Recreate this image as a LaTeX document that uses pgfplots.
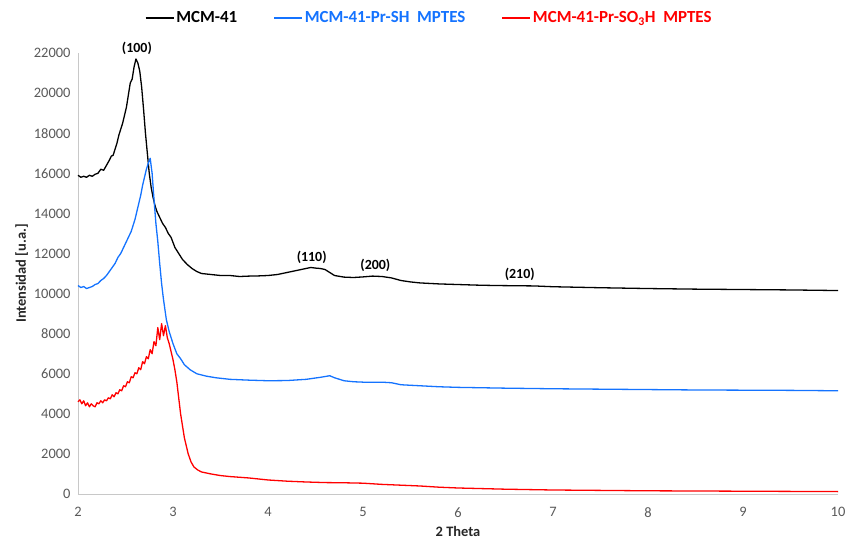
\documentclass[border=0pt]{standalone}
\usepackage{pgfplots}
\pgfplotsset{compat=1.18}
\usepackage{fontspec}
\setmainfont{Carlito}
\usetikzlibrary{calc}
\definecolor{xblue}{RGB}{20,115,255}
\definecolor{xred}{RGB}{255,0,0}
\definecolor{ticklab}{RGB}{89,89,89}
\definecolor{axline}{RGB}{200,200,200}

\begin{document}
\begin{tikzpicture}
\begin{axis}[
    scale only axis,
    width=760bp, height=441bp,
    xmin=2, xmax=10,
    ymin=0, ymax=22000,
    clip=false,
    xtick={2,3,4,5,6,7,8,9,10},
    ytick={0,2000,4000,6000,8000,10000,12000,14000,16000,18000,20000,22000},
    scaled y ticks=false,
    axis lines=left,
    axis line style={-, draw=axline, line width=0.8bp},
    major tick length=0pt,
    /pgf/number format/1000 sep={},
    /pgf/number format/assume math mode=true,
    tick label style={font=\fontsize{14.5}{16}\selectfont, text=ticklab},
    xticklabel style={yshift=-10bp},
    yticklabel style={xshift=-4bp},
    xlabel={\textbf{2 Theta}},
    ylabel={\textbf{Intensidad [u.a.]}},
    label style={font=\fontsize{14.5}{16}\selectfont, text=black!85},
    xlabel style={yshift=-2.5bp},
    ylabel style={yshift=-1bp},
    legend columns=3,
    legend style={draw=none, at={(0.462,1.08)}, anchor=center,
        font=\fontsize{17}{19}\selectfont\bfseries,
        /tikz/every even column/.append style={column sep=34bp}},
    legend image code/.code={\draw[#1, line width=1.6bp] (0bp,0bp) -- (28bp,0bp);},
    every axis plot/.append style={line width=1.3bp, line join=round},
]
\addplot[black] coordinates {
(2.00,15900) (2.03,15800) (2.06,15850) (2.09,15800) (2.12,15900) (2.15,15850)
(2.18,15950) (2.21,16000) (2.24,16200) (2.27,16150) (2.30,16400) (2.33,16650)
(2.35,16850) (2.37,16900) (2.39,17200) (2.41,17500) (2.43,17900) (2.45,18200)
(2.47,18500) (2.49,18900) (2.51,19300) (2.53,19900) (2.55,20500) (2.57,20700)
(2.59,21300) (2.61,21700) (2.63,21500) (2.65,21100) (2.67,20300) (2.69,19200)
(2.71,18000) (2.73,17000) (2.75,16000) (2.77,15300) (2.79,14800) (2.81,14400)
(2.83,14100) (2.86,13800) (2.89,13500) (2.92,13300) (2.95,13000) (2.98,12800)
(3.02,12300) (3.06,12000) (3.10,11700) (3.15,11450) (3.20,11250) (3.25,11100)
(3.30,11000) (3.40,10950) (3.50,10900) (3.60,10900) (3.70,10850) (3.80,10870)
(3.90,10880) (4.00,10900) (4.10,10950) (4.20,11050) (4.30,11150) (4.40,11250)
(4.45,11300) (4.50,11270) (4.55,11250) (4.60,11200) (4.65,11050) (4.70,10900)
(4.80,10820) (4.90,10800) (5.00,10830) (5.10,10870) (5.20,10850) (5.30,10780)
(5.40,10650) (5.50,10580) (5.60,10530) (5.80,10480) (6.00,10450) (6.20,10420)
(6.40,10400) (6.60,10390) (6.80,10380) (7.00,10340) (7.50,10290) (8.00,10250)
(8.50,10220) (9.00,10200) (9.50,10180) (10.00,10150)
};
\addlegendentry{MCM-41}
\addplot[xblue] coordinates {
(2.00,10400) (2.03,10300) (2.06,10350) (2.09,10250) (2.12,10300) (2.15,10350)
(2.18,10450) (2.21,10500) (2.24,10650) (2.27,10750) (2.30,10900) (2.33,11100)
(2.36,11300) (2.39,11500) (2.42,11800) (2.45,12000) (2.48,12300) (2.51,12600)
(2.54,12900) (2.56,13100) (2.58,13400) (2.60,13700) (2.62,14100) (2.64,14500)
(2.66,14900) (2.68,15400) (2.70,15800) (2.72,16200) (2.74,16500) (2.76,16750)
(2.78,16000) (2.80,14700) (2.82,13500) (2.84,12600) (2.86,11500) (2.88,10500)
(2.90,9700) (2.93,8700) (2.96,8100) (3.00,7500) (3.04,7000) (3.08,6750)
(3.12,6450) (3.18,6200) (3.25,6000) (3.35,5880) (3.45,5800) (3.60,5720)
(3.80,5680) (4.00,5650) (4.20,5660) (4.40,5720) (4.55,5820) (4.65,5900)
(4.70,5800) (4.80,5650) (4.90,5600) (5.00,5580) (5.20,5580) (5.30,5550)
(5.40,5450) (5.60,5400) (5.80,5350) (6.00,5320) (6.50,5280) (7.00,5250)
(7.50,5230) (8.00,5210) (8.50,5190) (9.00,5180) (9.50,5170) (10.00,5150)
};
\addlegendentry{\textcolor{xblue}{MCM-41-Pr-SH\ \ MPTES}}
\addplot[xred] coordinates {
(2.00,4600) (2.02,4700) (2.04,4500) (2.06,4650) (2.08,4400) (2.10,4550)
(2.12,4350) (2.14,4500) (2.16,4400) (2.18,4350) (2.20,4550) (2.22,4500)
(2.24,4650) (2.26,4550) (2.28,4700) (2.30,4650) (2.32,4800) (2.34,4750)
(2.36,4950) (2.38,4850) (2.40,5050) (2.42,5000) (2.44,5200) (2.46,5150)
(2.48,5400) (2.50,5350) (2.52,5600) (2.54,5550) (2.56,5850) (2.58,5800)
(2.60,6050) (2.62,6000) (2.64,6300) (2.66,6200) (2.68,6600) (2.70,6500)
(2.72,6850) (2.74,6750) (2.76,7200) (2.78,7000) (2.80,7600) (2.82,7400)
(2.84,8300) (2.86,7700) (2.88,8500) (2.90,7900) (2.92,8400) (2.94,7800)
(2.96,7500) (2.98,7100) (3.00,6700) (3.02,6200) (3.04,5600) (3.06,4800)
(3.08,4000) (3.10,3400) (3.12,2800) (3.14,2400) (3.16,2000) (3.19,1600)
(3.22,1350) (3.26,1200) (3.30,1100) (3.40,1000) (3.50,920) (3.60,870)
(3.80,800) (4.00,700) (4.20,640) (4.40,600) (4.60,570) (4.80,560)
(5.00,540) (5.20,480) (5.40,440) (5.60,400) (5.80,340) (6.00,300)
(6.50,240) (7.00,200) (7.50,180) (8.00,160) (8.50,150) (9.00,140)
(9.50,130) (10.00,120)
};
\addlegendentry{\textcolor{xred}{MCM-41-Pr-SO$_\mathbf{3}$H\ \ MPTES}}
\begin{scope}[every node/.style={font=\fontsize{14}{16}\selectfont\bfseries, text=black}]
\node at (axis cs:2.62,22250) {(100)};
\node at (axis cs:4.46,11820) {(110)};
\node at (axis cs:5.13,11420) {(200)};
\node at (axis cs:6.65,10970) {(210)};
\end{scope}
\end{axis}
\pgfresetboundingbox
\path ($(current axis.south west)+(-78bp,-47bp)$) rectangle ($(current axis.north east)+(7bp,53bp)$);
\end{tikzpicture}
\end{document}
